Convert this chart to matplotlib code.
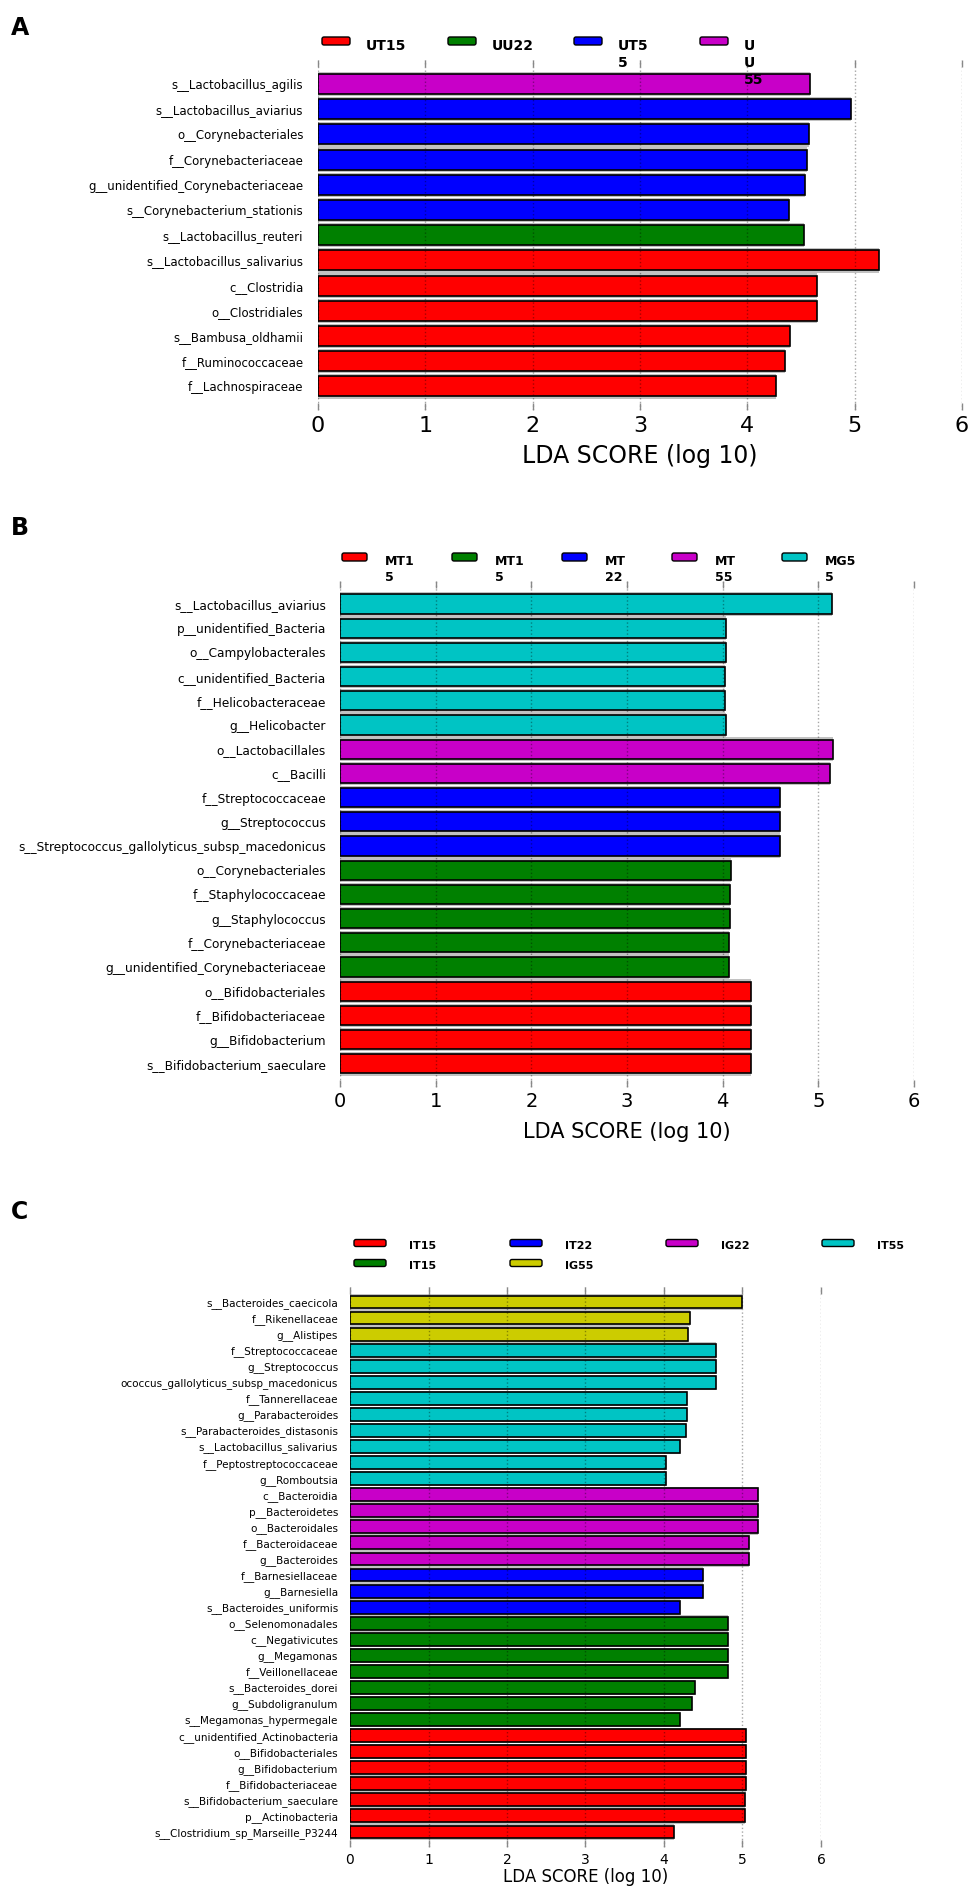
import numpy as np
import matplotlib

matplotlib.use('Agg')
import matplotlib.pyplot as plt
from matplotlib.patches import FancyBboxPatch

W, H = 975, 1892

RED = '#ff0000'
GREEN = '#008000'
BLUE = '#0000ff'
MAGENTA = '#c800c8'
CYAN = '#00c4c4'
YELLOW = '#cccc00'

###     Panel A     ###
a_labels = ["s__Lactobacillus_agilis", "s__Lactobacillus_aviarius", "o__Corynebacteriales",
            "f__Corynebacteriaceae", "g__unidentified_Corynebacteriaceae",
            "s__Corynebacterium_stationis", "s__Lactobacillus_reuteri",
            "s__Lactobacillus_salivarius", "c__Clostridia", "o__Clostridiales",
            "s__Bambusa_oldhamii", "f__Ruminococcaceae", "f__Lachnospiraceae"]
a_scores = [4.58, 4.97, 4.57, 4.56, 4.54, 4.39, 4.53, 5.23, 4.65, 4.65, 4.40, 4.35, 4.27]
a_groups = [3, 2, 2, 2, 2, 2, 1, 0, 0, 0, 0, 0, 0]
a_legend = ["UT15", "UU22", "UT5\n5", "U\nU\n55"]
a_colors = [RED, GREEN, BLUE, MAGENTA]

###     Panel B     ###
b_labels = ["s__Lactobacillus_aviarius", "p__unidentified_Bacteria", "o__Campylobacterales",
            "c__unidentified_Bacteria", "f__Helicobacteraceae", "g__Helicobacter",
            "o__Lactobacillales", "c__Bacilli", "f__Streptococcaceae", "g__Streptococcus",
            "s__Streptococcus_gallolyticus_subsp_macedonicus", "o__Corynebacteriales",
            "f__Staphylococcaceae", "g__Staphylococcus", "f__Corynebacteriaceae",
            "g__unidentified_Corynebacteriaceae", "o__Bifidobacteriales",
            "f__Bifidobacteriaceae", "g__Bifidobacterium", "s__Bifidobacterium_saeculare"]
b_scores = [5.14, 4.03, 4.03, 4.02, 4.02, 4.03, 5.15, 5.12, 4.60, 4.60, 4.60,
            4.09, 4.08, 4.08, 4.07, 4.07, 4.30, 4.30, 4.30, 4.30]
b_groups = [4, 4, 4, 4, 4, 4, 3, 3, 2, 2, 2, 1, 1, 1, 1, 1, 0, 0, 0, 0]
b_legend = ["MT1\n5", "MT1\n5", "MT\n22", "MT\n55", "MG5\n5"]
b_colors = [RED, GREEN, BLUE, MAGENTA, CYAN]

###     Panel C     ###
c_labels = ["s__Bacteroides_caecicola", "f__Rikenellaceae", "g__Alistipes",
            "f__Streptococcaceae", "g__Streptococcus",
            "ococcus_gallolyticus_subsp_macedonicus", "f__Tannerellaceae",
            "g__Parabacteroides", "s__Parabacteroides_distasonis",
            "s__Lactobacillus_salivarius", "f__Peptostreptococcaceae", "g__Romboutsia",
            "c__Bacteroidia", "p__Bacteroidetes", "o__Bacteroidales", "f__Bacteroidaceae",
            "g__Bacteroides", "f__Barnesiellaceae", "g__Barnesiella",
            "s__Bacteroides_uniformis", "o__Selenomonadales", "c__Negativicutes",
            "g__Megamonas", "f__Veillonellaceae", "s__Bacteroides_dorei",
            "g__Subdoligranulum", "s__Megamonas_hypermegale",
            "c__unidentified_Actinobacteria", "o__Bifidobacteriales", "g__Bifidobacterium",
            "f__Bifidobacteriaceae", "s__Bifidobacterium_saeculare", "p__Actinobacteria",
            "s__Clostridium_sp_Marseille_P3244"]
c_scores = [4.99, 4.33, 4.31, 4.66, 4.66, 4.66, 4.29, 4.29, 4.28, 4.20, 4.02, 4.02,
            5.20, 5.20, 5.20, 5.08, 5.08, 4.50, 4.50, 4.20,
            4.82, 4.82, 4.82, 4.82, 4.40, 4.36, 4.20,
            5.04, 5.04, 5.04, 5.04, 5.03, 5.03, 4.13]
c_groups = [3] * 3 + [5] * 9 + [4] * 5 + [2] * 3 + [1] * 7 + [0] * 7
c_legend = ["IT15", "IT15", "IT22", "IG55", "IG22", "IT55"]
c_colors = [RED, GREEN, BLUE, YELLOW, MAGENTA, CYAN]

xticks = [0, 1, 2, 3, 4, 5, 6]


def draw_panel(fig, labels, scores, groups, colors, left, right, first, step,
               ylab_size, ylab_pad, tick_size, xlab_size, xlab_pad):
    n = len(labels)
    top = first - 0.95 * step
    bottom = first + (n - 1) * step + 0.95 * step
    ax = fig.add_axes([left / W, 1 - bottom / H, (right - left) / W, (bottom - top) / H])
    ax.set_facecolor('none')
    y = np.arange(n)
    ax.barh(y, scores, height=0.97, color='#c2c2c2', zorder=1)
    ax.barh(y, scores, height=0.8, color=[colors[g] for g in groups],
            edgecolor='k', linewidth=1.2, zorder=2)
    ax.set_xlim(0, 6)
    ax.set_ylim(n - 1 + 0.95, -0.95)
    ax.set_yticks(y)
    ax.set_yticklabels(labels, fontsize=ylab_size)
    ax.set_xticks(xticks)
    ax.set_xticklabels([str(t) for t in xticks], fontsize=tick_size)
    ax.tick_params(axis='y', length=0, pad=ylab_pad)
    ax.tick_params(axis='x', direction='in', top=True, bottom=True, length=5,
                   width=1, color='#888888', pad=4)
    ax.xaxis.grid(True, linestyle=':', color='k', alpha=0.35, linewidth=1, zorder=3)
    ax.set_axisbelow(False)
    for s in ax.spines.values():
        s.set_visible(False)
    ax.set_xlabel("LDA SCORE (log 10)", fontsize=xlab_size, labelpad=xlab_pad)
    return ax


def draw_legend(ov, names, colors, ncol, x0, xstep, y0, ystep, pw, ph, tdx, size):
    # same column filling as a matplotlib legend with ncol columns
    n = len(names)
    nrows = int(np.ceil(n / ncol))
    nbig = n % ncol if n % ncol else ncol
    k = 0
    for col in range(ncol):
        rows = nrows if col < nbig else nrows - 1
        for row in range(rows):
            if k >= n:
                break
            px = x0 + col * xstep
            py = y0 + row * ystep
            ov.add_patch(FancyBboxPatch((px, py - ph / 2), pw, ph,
                                        boxstyle='round,pad=0,rounding_size=2',
                                        facecolor=colors[k], edgecolor='k', linewidth=1))
            ov.text(px + tdx, py - 2, names[k], fontsize=size, fontweight='bold',
                    ha='left', va='top', linespacing=1.25)
            k += 1


fig = plt.figure(figsize=(W / 100, H / 100), dpi=100)

draw_panel(fig, a_labels, a_scores, a_groups, a_colors, 318, 962, 84, 25.2,
           8.5, 10.5, 16, 17, 6)
draw_panel(fig, b_labels, b_scores, b_groups, b_colors, 340, 914, 604, 24.2,
           8.7, 10, 14, 15, 8)
draw_panel(fig, c_labels, c_scores, c_groups, c_colors, 350, 821, 1302, 16.06,
           7.5, 8.5, 10, 12, 1)

# overlay in pixel units for legends and panel letters, drawn on top
ov = fig.add_axes([0, 0, 1, 1])
ov.set_xlim(0, W)
ov.set_ylim(H, 0)
ov.axis('off')
ov.patch.set_visible(False)
ov.set_zorder(10)

draw_legend(ov, a_legend, a_colors, 4, 322, 126, 41, 0, 28, 8, 44, 10)
draw_legend(ov, b_legend, b_colors, 5, 342, 110, 557, 0, 25, 8, 43, 9)
draw_legend(ov, c_legend, c_colors, 4, 354, 156, 1243, 20, 32, 7, 55, 8)

ov.text(20, 28, "A", fontsize=17, fontweight='bold', ha='center', va='center')
ov.text(20, 528, "B", fontsize=17, fontweight='bold', ha='center', va='center')
ov.text(20, 1212, "C", fontsize=17, fontweight='bold', ha='center', va='center')

fig.savefig("out.png", dpi=100)
